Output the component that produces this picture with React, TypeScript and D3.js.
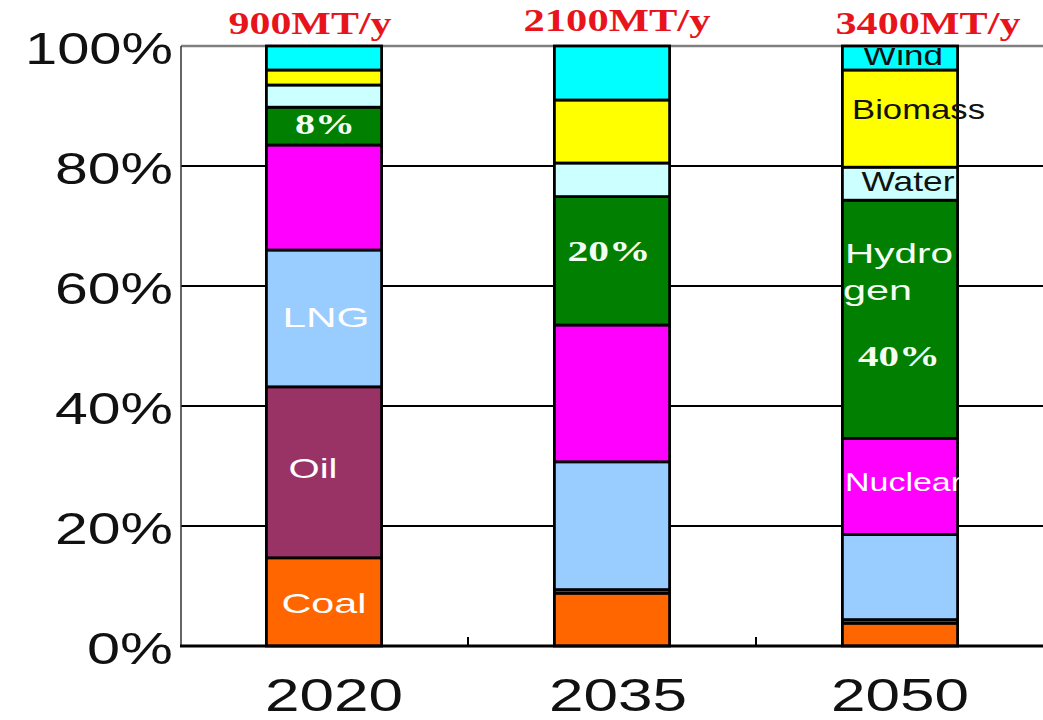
import React from "react";
import * as d3 from "d3";

const years = ["2020", "2035", "2050"];
const totals = ["900MT/y", "2100MT/y", "3400MT/y"];
const yTicks = [0, 20, 40, 60, 80, 100];

const seriesKeys = ["Coal", "Oil", "LNG", "Nuclear", "Hydrogen", "Water", "Biomass", "Wind"];
const coal = [14.7, 8.8, 3.8];
const oil = [28.5, 0.6, 0.6];
const lng = [22.8, 21.3, 14.2];
const nuclear = [17.5, 22.8, 16.0];
const hydrogen = [6.3, 21.4, 39.7];
const water = [3.7, 5.6, 5.5];
const biomass = [2.5, 10.5, 16.2];
const wind = [4.0, 9.0, 4.0];

const colors: Record<string, string> = {
  Coal: "#ff6600",
  Oil: "#993366",
  LNG: "#99ccff",
  Nuclear: "#ff00ff",
  Hydrogen: "#007f00",
  Water: "#ccffff",
  Biomass: "#ffff00",
  Wind: "#00ffff",
};

// in-bar annotations: text, series, year index
const annotations = [
  { text: "Coal", series: "Coal", yi: 0 },
  { text: "Oil", series: "Oil", yi: 0 },
  { text: "LNG", series: "LNG", yi: 0 },
  { text: "8%", series: "Hydrogen", yi: 0 },
  { text: "20%", series: "Hydrogen", yi: 1 },
  { text: "Hydro", series: "Hydrogen", yi: 2 },
  { text: "gen", series: "Hydrogen", yi: 2 },
  { text: "40%", series: "Hydrogen", yi: 2 },
  { text: "Nuclear", series: "Nuclear", yi: 2 },
  { text: "Water", series: "Water", yi: 2 },
  { text: "Biomass", series: "Biomass", yi: 2 },
  { text: "Wind", series: "Wind", yi: 2 },
];

// style / placement for annotations (offsets from segment middle)
const annStyle: Record<string, any> = {
  "Coal": { dx: 0, dy: 11, len: 85, serif: false, fill: "#fff", size: 28, anchor: "middle" },
  "Oil": { dx: -11, dy: 6, len: 49, serif: false, fill: "#fff", size: 28, anchor: "middle" },
  "LNG": { dx: 2, dy: 9, len: 87, serif: false, fill: "#fff", size: 28, anchor: "middle" },
  "8%": { dx: 1, dy: 8, len: 60, serif: true, fill: "#f4fff4", size: 30, anchor: "middle" },
  "20%": { dx: -3, dy: 0, len: 83, serif: true, fill: "#f4fff4", size: 30, anchor: "middle" },
  "Hydro": { dx: -55, dy: 0, top: 63, len: 108, serif: false, fill: "#f4fff4", size: 28, anchor: "start" },
  "gen": { dx: -57, dy: 0, top: 100, len: 69, serif: false, fill: "#f4fff4", size: 28, anchor: "start" },
  "40%": { dx: -1, dy: 0, top: 166, len: 82, serif: true, fill: "#f4fff4", size: 30, anchor: "middle" },
  "Nuclear": { dx: -55, dy: 5, len: 117, serif: false, fill: "#fff", size: 26, anchor: "start" },
  "Water": { dx: 8, dy: 7, len: 93, serif: false, fill: "#111", size: 28, anchor: "middle" },
  "Biomass": { dx: -48, dy: 0, len: 133, serif: false, fill: "#111", size: 28, anchor: "start" },
  "Wind": { dx: 3, dy: 7, len: 80, serif: false, fill: "#111", size: 28, anchor: "middle" },
};

const W = 1043;
const H = 720;
const left = 181;
const right = 1043;
const bottom = 646;
const top = 46;

export default function App() {
  const table = years.map((y, i) => ({
    year: y,
    Coal: coal[i],
    Oil: oil[i],
    LNG: lng[i],
    Nuclear: nuclear[i],
    Hydrogen: hydrogen[i],
    Water: water[i],
    Biomass: biomass[i],
    Wind: wind[i],
  }));
  const stacked = d3.stack<any>().keys(seriesKeys)(table);

  const x = d3.scaleBand().domain(years).range([180, 1044]).paddingInner(0.6).paddingOuter(0.3);
  const y = d3.scaleLinear().domain([0, 100]).range([bottom, top]);
  const bw = x.bandwidth();
  const step = x.step();

  const sans = "'Liberation Sans', Arial, sans-serif";
  const serif = "'Liberation Serif', 'Times New Roman', serif";

  return (
    <svg width={W} height={H} style={{ position: "absolute", left: 0, top: 0, background: "#fff" }}>
      <defs>
        <clipPath id="plotClip">
          <rect x={0} y={top + 2} width={W} height={bottom - top} />
        </clipPath>
      </defs>
      {/* gridlines */}
      {yTicks.filter((t) => t > 0).map((t) => (
        <line key={t} x1={left} x2={right} y1={y(t)} y2={y(t)} stroke={t === 100 ? "#808080" : "#000"} strokeWidth={t === 100 ? 2.5 : 2} />
      ))}
      {/* y axis */}
      <line x1={left} x2={left} y1={top} y2={bottom} stroke="#333" strokeWidth={1.5} />
      {/* bars */}
      {stacked.map((s) => (
        <g key={s.key}>
          {s.map((d, i) => (
            <rect key={i} x={x(years[i])} y={y(d[1])} width={bw} height={y(d[0]) - y(d[1])}
              fill={colors[s.key]} stroke="#000" strokeWidth={2.8} />
          ))}
        </g>
      ))}
      {/* x axis */}
      <line x1={180} x2={right} y1={bottom} y2={bottom} stroke="#000" strokeWidth={3} />
      {years.slice(1).map((yr) => (
        <line key={yr} x1={(x(yr) as number) - (step - bw) / 2} x2={(x(yr) as number) - (step - bw) / 2} y1={bottom} y2={bottom - 9} stroke="#000" strokeWidth={2} />
      ))}
      {/* y tick labels */}
      {yTicks.map((t) => (
        <text key={t} x={173} y={y(t) + 18} textAnchor="end" fontFamily={sans} fontSize={44}
          textLength={t === 100 ? 148 : t === 0 ? 86 : 118} lengthAdjust="spacingAndGlyphs" fill="#111">
          {t}%
        </text>
      ))}
      {/* x labels */}
      {years.map((yr, i) => (
        <text key={yr} x={(x(yr) as number) + bw / 2 + [10, 6, 0][i]} y={711} textAnchor="middle" fontFamily={sans}
          fontSize={46} textLength={138} lengthAdjust="spacingAndGlyphs" fill="#111">
          {yr}
        </text>
      ))}
      {/* totals */}
      {years.map((yr, i) => (
        <text key={yr} x={(x(yr) as number) + bw / 2 + [-14, 5, 28][i]} y={[34, 31, 34][i]} textAnchor="middle" fontFamily={serif}
          fontWeight="bold" fontSize={31} textLength={[163, 187, 185][i]} lengthAdjust="spacingAndGlyphs" fill="#e8141c">
          {totals[i]}
        </text>
      ))}
      {/* annotations */}
      <g clipPath="url(#plotClip)">
        {annotations.map((a, k) => {
          const st = annStyle[a.text];
          const s = stacked.find((q) => q.key === a.series)!;
          const seg = s[a.yi];
          const cx = (x(years[a.yi]) as number) + bw / 2;
          const yy = st.top !== undefined ? y(seg[1]) + st.top : (y(seg[0]) + y(seg[1])) / 2 + st.dy;
          return (
            <text key={k} x={cx + st.dx} y={yy} textAnchor={st.anchor} fontFamily={st.serif ? serif : sans}
              fontWeight={st.serif ? "bold" : "normal"} fontSize={st.size} textLength={st.len}
              lengthAdjust="spacingAndGlyphs" fill={st.fill}>
              {a.text}
            </text>
          );
        })}
      </g>
    </svg>
  );
}
